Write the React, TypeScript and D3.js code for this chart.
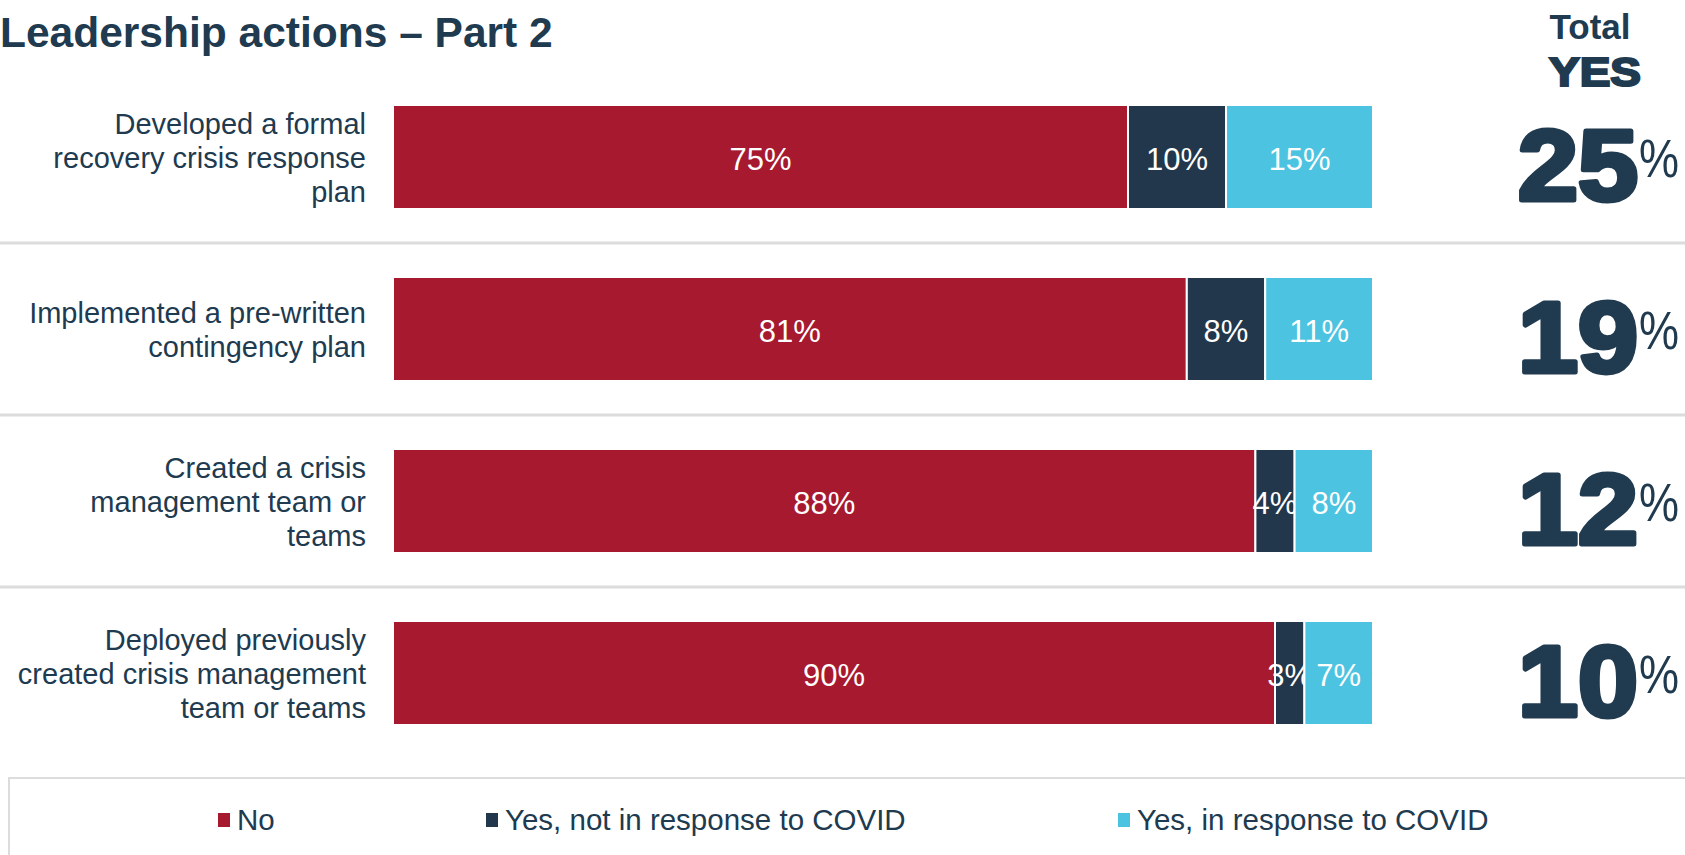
import React from "react";
import * as d3 from "d3";

const categories = [
  ["Developed a formal", "recovery crisis response", "plan"],
  ["Implemented a pre-written", "contingency plan"],
  ["Created a crisis", "management team or", "teams"],
  ["Deployed previously", "created crisis management", "team or teams"],
];
const seriesNames = ["No", "Yes, not in response to COVID", "Yes, in response to COVID"];
const noValues = [75, 81, 88, 90];
const yesNotCovid = [10, 8, 4, 3];
const yesCovid = [15, 11, 8, 7];
const totalYes = [25, 19, 12, 10];
const colors = ["#A6192E", "#22374B", "#4CC3E0"];

const W = 1685;
const H = 855;
const NAVY = "#203A4F";
const FONT = "'Liberation Sans', Arial, sans-serif";

export default function App() {
  const keys = categories.map((_, i) => `c${i}`);
  const x = d3.scaleLinear().domain([0, 100]).range([393, 1373]);
  const y = d3.scalePoint<string>().domain(keys).range([157, 673]);
  const barH = 104;
  const rows = keys.map((k, i) => ({ k, vals: [noValues[i], yesNotCovid[i], yesCovid[i]] }));
  const stack = d3.stack<any>().keys(["0", "1", "2"])(rows.map((r) => ({ "0": r.vals[0], "1": r.vals[1], "2": r.vals[2] })));
  const lineH = 34;
  const legendX = [218, 486, 1118];

  return (
    <svg width={W} height={H} style={{ position: "absolute", left: 0, top: 0, background: "#fff" }}>
      <rect x={0} y={0} width={W} height={H} fill="#fff" />
      <text x={0} y={47} fontFamily={FONT} fontWeight="bold" fontSize={42.5} fill={NAVY}>
        Leadership actions – Part 2
      </text>
      <text x={1590} y={39} textAnchor="middle" fontFamily={FONT} fontWeight="bold" fontSize={35} fill={NAVY}>
        Total
      </text>
      <text x={1595} y={86} textAnchor="middle" fontFamily={FONT} fontWeight="bold" fontSize={41} fill={NAVY}
        stroke={NAVY} strokeWidth={2.2} textLength={92} lengthAdjust="spacingAndGlyphs">
        YES
      </text>

      {/* separators */}
      {keys.slice(0, -1).map((k, i) => {
        const yy = ((y(k) as number) + (y(keys[i + 1]) as number)) / 2;
        return <line key={k} x1={0} x2={W} y1={yy} y2={yy} stroke="#DCDCDC" strokeWidth={3} />;
      })}

      {/* bars */}
      {stack.map((s, si) =>
        s.map((d, ri) => {
          const cy = y(keys[ri]) as number;
          const x0 = x(d[0]);
          const x1 = x(d[1]);
          return (
            <g key={`${si}-${ri}`}>
              <rect x={x0} y={cy - barH / 2} width={x1 - x0} height={barH} fill={colors[si]} stroke="#fff" strokeWidth={2} />
              <text x={(x0 + x1) / 2} y={cy + 2} dy="0.36em" textAnchor="middle" fontFamily={FONT} fontSize={31} fill="#fff">
                {rows[ri].vals[si]}%
              </text>
            </g>
          );
        })
      )}

      {/* category labels */}
      {categories.map((lines, i) => {
        const cy = y(keys[i]) as number;
        const start = cy - ((lines.length - 1) * lineH) / 2;
        return (
          <text key={i} textAnchor="end" fontFamily={FONT} fontSize={29} fill={NAVY}>
            {lines.map((l, j) => (
              <tspan key={j} x={366} y={start + j * lineH + 1} dy="0.36em">
                {l}
              </tspan>
            ))}
          </text>
        );
      })}

      {/* total yes */}
      {totalYes.map((v, i) => {
        const cy = y(keys[i]) as number;
        return (
          <g key={i}>
            <text x={1638} y={cy + 43} textAnchor="end" fontFamily={FONT} fontWeight="bold" fontSize={100}
              fill={NAVY} stroke={NAVY} strokeWidth={5} strokeLinejoin="round" textLength={120} lengthAdjust="spacingAndGlyphs">
              {v}
            </text>
            <text transform={`translate(1639,${cy + 20}) scale(1,1.2)`} x={0} y={0} textAnchor="start"
              fontFamily={FONT} fontSize={45} fill={NAVY}>
              %
            </text>
          </g>
        );
      })}

      {/* legend */}
      <rect x={9} y={778} width={W} height={120} fill="none" stroke="#DCDCDC" strokeWidth={2} />
      {seriesNames.map((n, i) => (
        <g key={n}>
          <rect x={legendX[i]} y={813} width={12} height={14} fill={colors[i]} />
          <text x={legendX[i] + 19} y={830} fontFamily={FONT} fontSize={29.5} fill={NAVY}>
            {n}
          </text>
        </g>
      ))}
    </svg>
  );
}
